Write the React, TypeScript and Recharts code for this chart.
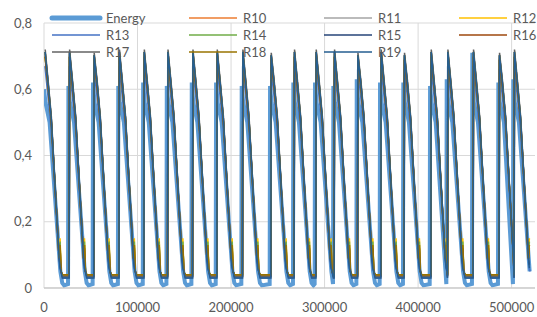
import { LineChart, Line, XAxis, YAxis, CartesianGrid } from "recharts";

// ── Data ─────────────────────────────────────────────────────────────────────

// x position of every rise (the vertical jumps), in data units
const cycleStarts = [
  0, 26100, 52400, 79400, 106000, 131300, 158000, 184000, 211400, 241700, 266600,
  289800, 309400, 334400, 359300, 384200, 412800, 430600, 458000, 485800, 501800,
];
const dataEnd = 520000;

const energyPeaks = [
  0.6, 0.61, 0.62, 0.61, 0.62, 0.61, 0.62, 0.62, 0.61, 0.61, 0.62,
  0.62, 0.61, 0.63, 0.62, 0.62, 0.61, 0.63, 0.71, 0.62, 0.63,
];
const rPeaks = [
  0.72, 0.72, 0.71, 0.72, 0.72, 0.72, 0.72, 0.72, 0.72, 0.71, 0.72,
  0.72, 0.72, 0.71, 0.72, 0.71, 0.72, 0.72, 0.72, 0.71, 0.72,
];

// what each curve does after a rise: [distance after rise, value]
const energyDecay: [number, number][] = [
  [1600, 0.56], [6000, 0.5], [17500, 0.05], [19500, 0.015], [21500, 0.008],
];
const energyFloor = 0.012;

const seriesNames = ["R10", "R11", "R12", "R13", "R14", "R15", "R16", "R17", "R18", "R19"];
const seriesColors = ["#ED7D31", "#A5A5A5", "#FFC000", "#4472C4", "#70AD47", "#264478", "#9E480E", "#636363", "#997300", "#255E91"];
const seriesLag = [1200, 1200, 1200, 1000, 1200, 1200, 1200, 1300, 1200, 1200];
const seriesPeakScale = [0.97, 0.98, 0.97, 0.93, 0.97, 0.99, 0.97, 1.0, 0.99, 0.99];
const seriesBump = [0.13, 0.07, 0.15, 0.06, 0.14, 0.07, 0.12, 0.09, 0.13, 0.06];
const seriesFloor = [0.035, 0.03, 0.04, 0.03, 0.04, 0.035, 0.04, 0.035, 0.04, 0.03];

const xTicks = [0, 100000, 200000, 300000, 400000, 500000];
const yTicks = [0, 0.2, 0.4, 0.6, 0.8];

// ── Series assembly ──────────────────────────────────────────────────────────

type Pt = { x: number; y: number };

function buildSeries(peaks: number[], decay: [number, number][], floor: number, lag: number): Pt[] {
  const pts: Pt[] = [];
  cycleStarts.forEach((s, i) => {
    const last = i === cycleStarts.length - 1;
    const start = s + lag;
    const limit = last ? dataEnd : cycleStarts[i + 1] + lag - 400;
    pts.push({ x: start, y: peaks[i] });
    decay.forEach(([dx, v]) => {
      if (start + dx < limit) pts.push({ x: start + dx, y: v });
    });
    if (!last) pts.push({ x: limit, y: floor });
  });
  return pts;
}

const energyData = buildSeries(energyPeaks, energyDecay, energyFloor, 0);

const rSeries = seriesNames.map((name, k) => {
  const sc = seriesPeakScale[k];
  const decay: [number, number][] = [
    [3000, 0.63 * sc], [6500, 0.52 * sc], [15000, 0.09],
    [16000, seriesBump[k]], [17000, 0.05], [18500, seriesFloor[k]],
  ];
  return {
    name,
    color: seriesColors[k],
    data: buildSeries(rPeaks.map((p) => p * sc), decay, seriesFloor[k], seriesLag[k]),
  };
});

// ── Legend ───────────────────────────────────────────────────────────────────

const legendItems = [
  { name: "Energy", color: "#5B9BD5", width: 5 },
  ...rSeries.map((s) => ({ name: s.name, color: s.color, width: 1.5 })),
];
const legendColX = [106, 243, 378, 513];
const legendRowY = [18, 35, 52];

function ChartLegend() {
  return (
    <svg width={537} height={70} style={{ position: "absolute", left: 0, top: 0, pointerEvents: "none" }}>
      {legendItems.map((it, i) => {
        const tx = legendColX[i % 4];
        const ty = legendRowY[Math.floor(i / 4)];
        return (
          <g key={it.name}>
            <line x1={tx - 54} x2={tx - 6} y1={ty} y2={ty} stroke={it.color} strokeWidth={it.width} strokeLinecap={it.width > 2 ? "round" : "butt"} />
            <text x={tx} y={ty} dy="0.36em" fill="#595959" fontSize={13} fontFamily="Lato, sans-serif">{it.name}</text>
          </g>
        );
      })}
    </svg>
  );
}

// ── Chart ────────────────────────────────────────────────────────────────────

const tickStyle = { fill: "#595959", fontSize: 13, fontFamily: "Lato, sans-serif" };

export default function App() {
  return (
    <div style={{ position: "absolute", left: 0, top: 0, width: 537, height: 317, background: "#fff" }}>
      <LineChart width={537} height={317} margin={{ top: 23, right: 2, left: 0, bottom: 0 }}>
        <CartesianGrid stroke="#D9D9D9" verticalValues={xTicks} horizontalValues={yTicks} />
        <XAxis
          type="number"
          dataKey="x"
          domain={[0, 525000]}
          ticks={xTicks}
          allowDataOverflow
          height={29}
          tickLine={false}
          tickMargin={9}
          axisLine={{ stroke: "#BFBFBF" }}
          tick={tickStyle}
        />
        <YAxis
          type="number"
          dataKey="y"
          domain={[0, 0.8]}
          ticks={yTicks}
          width={44}
          axisLine={false}
          tickLine={false}
          tickMargin={6}
          tick={tickStyle}
          tickFormatter={(v: number) => String(v).replace(".", ",")}
        />
        <Line data={energyData} dataKey="y" name="Energy" type="linear" stroke="#5B9BD5" strokeWidth={4} dot={false} isAnimationActive={false} />
        {rSeries.map((s) => (
          <Line key={s.name} data={s.data} dataKey="y" name={s.name} type="linear" stroke={s.color} strokeWidth={1.5} dot={false} isAnimationActive={false} />
        ))}
      </LineChart>
      <ChartLegend />
    </div>
  );
}
